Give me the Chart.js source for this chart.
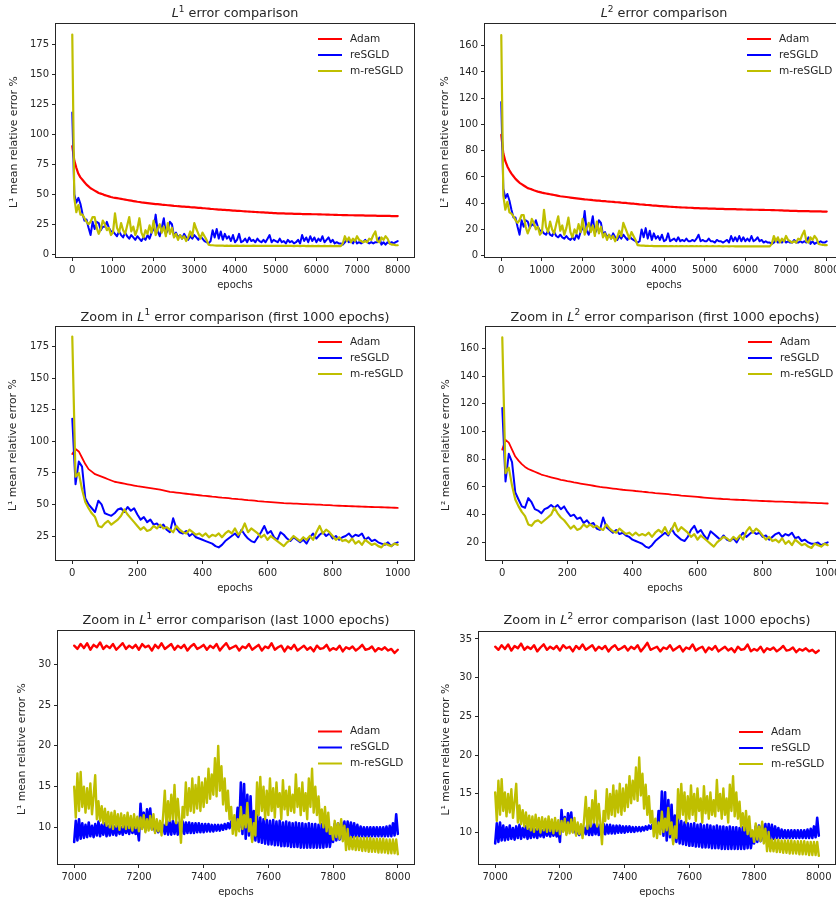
<!DOCTYPE html>
<html><head><meta charset="utf-8">
<script src="https://cdn.jsdelivr.net/npm/chart.js@4"></script>
<style>
html,body{margin:0;padding:0;background:#fff;}
body{width:836px;height:902px;overflow:hidden;position:relative;}
canvas{position:absolute;}
</style></head><body>
<canvas id="c1" width="418" height="300" style="left:0;top:0"></canvas>
<canvas id="c2" width="440" height="300" style="left:418px;top:0"></canvas>
<canvas id="c3" width="418" height="300" style="left:0;top:300px"></canvas>
<canvas id="c4" width="440" height="300" style="left:418px;top:300px"></canvas>
<canvas id="c5" width="418" height="302" style="left:0;top:600px"></canvas>
<canvas id="c6" width="440" height="302" style="left:418px;top:600px"></canvas>
<script>
// ---------- series names / colours ----------
const seriesNames = ['Adam', 'reSGLD', 'm-reSGLD'];
const seriesColors = ['#ff0000', '#0000ff', '#bfbf00'];

// ---------- tick labels ----------
const xTicksFull = [0,1000,2000,3000,4000,5000,6000,7000,8000];
const xTicksFirst = [0,200,400,600,800,1000];
const xTicksLast = [7000,7200,7400,7600,7800,8000];
const yTicksL1Full = [0,25,50,75,100,125,150,175];
const yTicksL2Full = [0,20,40,60,80,100,120,140,160];
const yTicksL1First = [25,50,75,100,125,150,175];
const yTicksL2First = [20,40,60,80,100,120,140,160];
const yTicksL1Last = [10,15,20,25,30];
const yTicksL2Last = [10,15,20,25,30,35];

// ---------- full run (epochs 0..8000, every 50 epochs) ----------
const adamL1Full = [
90,78,72,67,64,62,60,58,56.5,55,54,53,52,51,50.5,50,49.2,48.7,48.2,47.7,
47.3,47,46.7,46.4,46.1,45.8,45.5,45.2,44.9,44.6,44.3,44,43.7,43.5,43.2,43,42.8,42.6,42.4,42.2,
42,41.8,41.7,41.5,41.3,41.2,41,40.8,40.7,40.5,40.3,40.2,40,39.9,39.7,39.6,39.5,39.4,39.2,39.1,
39,38.9,38.7,38.6,38.4,38.3,38.1,38,37.8,37.7,37.5,37.4,37.2,37.1,37,36.9,36.8,36.7,36.6,36.4,
36.3,36.2,36.1,36,35.8,35.7,35.6,35.5,35.4,35.3,35.2,35.1,35,34.9,34.8,34.7,34.6,34.5,34.4,34.3,
34.2,34.1,34.1,34,34,33.9,33.9,33.8,33.8,33.7,33.7,33.6,33.6,33.5,33.5,33.4,33.4,33.4,33.3,33.3,
33.3,33.2,33.2,33.1,33.1,33,33,32.9,32.9,32.8,32.8,32.7,32.7,32.6,32.6,32.6,32.5,32.5,32.5,32.4,
32.4,32.3,32.3,32.3,32.2,32.2,32.2,32.1,32.1,32.1,32,32,32,31.9,31.9,31.9,31.9,31.8,31.8,31.8,
31.8];
const resgldL1Full = [
118,50,43,47,42,34,28,29,22,16,27,21,27,26,20,23,23,27,22,19,
19,17,15,19,16,14,18,15,13,16,14,12,15,13,11,14,12,16,13,18,
21,33,19,15,22,30,17,20,27,25,15,18,14,16,13,17,14,12,15,13,
16,14,12,15,13,11,10,9,11,20,14,21,13,19,12,17,13,15,11,16,
10,12,17,10,11,13,10,14,11,12,10,13,11,10,12,10,13,16,10,12,
11,10,13,10,11,9,12,10,11,9,10,12,9,16,11,14,10,15,11,14,
10,13,11,15,10,12,14,10,12,9,10,9,9,8,10,12,10,11,9,12,
9,10,9,10,12,10,9,10,9,10,10,14,8,10,8,10,9,10,9,10,
11];
const mresgldL1Full = [
183,47,35,41,33,33,30,27,25,27,31,31,22,17,21,28,25,20,22,16,
18,34,22,18,26,20,17,24,31,19,23,16,21,30,18,14,20,17,24,18,
28,16,21,25,18,23,15,26,17,22,14,17,12,16,13,15,11,14,19,15,
26,21,17,13,18,15,12,8,7.5,7.5,7.3,7.2,7.2,7.1,7.2,7.0,7.1,7.0,7.1,7.0,
7.0,7.1,6.9,7.0,7.1,6.9,7.0,6.9,7.0,7.1,6.9,7.0,6.9,7.0,7.0,6.9,7.0,6.9,7.0,6.9,
6.9,7.0,6.9,6.9,7.0,6.9,6.9,7.0,6.9,6.8,6.9,6.9,6.8,6.9,6.9,6.8,6.9,6.8,6.9,6.8,
6.8,6.9,6.8,6.8,6.9,6.8,6.8,6.9,6.8,6.8,6.9,6.8,6.8,9,15,11,14,10,13,11,
15,12,11,10,11,10,13,12,16,19,11,10,14,12,15,13,9,8,8,7.5,
7.5];
const adamL2Full = [
92,78,72,68,65,62.5,60.5,58.5,57,55.5,54.5,53.5,52.5,51.5,51,50.5,49.8,49.3,48.8,48.4,
48,47.7,47.4,47.1,46.8,46.5,46.2,45.9,45.6,45.3,45.1,44.9,44.7,44.5,44.3,44.1,43.9,43.7,43.5,43.3,
43.1,42.9,42.8,42.6,42.5,42.3,42.2,42,41.9,41.7,41.6,41.5,41.3,41.2,41.1,41,40.8,40.7,40.6,40.4,
40.3,40.2,40,39.9,39.7,39.6,39.4,39.3,39.1,39,38.9,38.7,38.6,38.5,38.3,38.2,38.1,38,37.8,37.7,
37.6,37.5,37.4,37.3,37.2,37.1,37,36.9,36.8,36.7,36.7,36.6,36.5,36.5,36.4,36.3,36.3,36.2,36.1,36.1,
36,36,35.9,35.9,35.8,35.8,35.7,35.7,35.6,35.6,35.5,35.5,35.5,35.4,35.4,35.4,35.3,35.3,35.3,35.2,
35.2,35.1,35.1,35.1,35,35,35,34.9,34.9,34.9,34.8,34.8,34.8,34.7,34.7,34.6,34.6,34.5,34.5,34.4,
34.3,34.3,34.2,34.2,34.1,34.1,34.0,34.0,34,33.9,33.9,33.9,33.8,33.8,33.8,33.7,33.7,33.7,33.6,33.6,
33.6];
const resgldL2Full = [
117,51,44,47,42,35,29,29,22,16,27,22,27,26,21,24,23,27,22,19,
19,17,16,19,16,15,18,15,14,16,14,13,15,13,12,14,12,16,13,18,
21,34,19,16,22,30,17,20,27,25,16,18,14,16,13,17,14,12,15,13,
16,14,12,15,13,12,11,10,11,20,14,21,13,19,12,17,13,15,12,16,
11,12,17,11,12,13,11,14,11,12,11,13,11,11,12,11,13,16,11,12,
11,11,13,11,11,10,12,11,11,10,11,12,10,15,11,14,11,15,11,14,
11,13,11,15,11,12,14,11,12,10,11,10,10,9,10,12,10,11,10,12,
10,11,10,10,12,10,10,11,10,11,10,14,9,11,9,10,10,11,10,10,
11];
const mresgldL2Full = [
168,46,35,41,33,32,30,27,25,27,31,31,22,17,21,28,25,20,22,16,
18,35,22,18,26,20,17,24,30,19,23,16,21,29,18,14,20,17,24,18,
28,16,21,25,18,23,15,26,17,22,14,17,12,16,13,15,11,14,19,15,
25,21,17,13,18,15,12,8,7.8,7.7,7.6,7.5,7.5,7.4,7.5,7.3,7.4,7.3,7.4,7.3,
7.3,7.4,7.2,7.3,7.4,7.2,7.3,7.2,7.3,7.4,7.2,7.3,7.2,7.3,7.3,7.2,7.3,7.2,7.3,7.2,
7.2,7.3,7.2,7.2,7.3,7.2,7.2,7.3,7.2,7.1,7.2,7.2,7.1,7.2,7.2,7.1,7.2,7.1,7.2,7.1,
7.1,7.2,7.1,7.1,7.2,7.1,7.1,7.2,7.1,7.1,7.2,7.1,7.1,9,15,11,14,10,13,11,
15,12,11,10,11,10,13,12,16,19,11,10,14,12,15,13,9,8.5,8.3,8,
8];

// ---------- first 1000 epochs (every 10 epochs) ----------
const adamL1First = [
90,94,92,87,82,78,76,74,73,72,
71,70,69,68,67.5,67,66.5,66,65.5,65,
64.5,64.1,63.7,63.3,62.9,62.5,62.1,61.7,61.2,60.6,
60,59.7,59.4,59.1,58.8,58.5,58.2,57.9,57.6,57.3,
57,56.8,56.5,56.2,56,55.7,55.4,55.2,55,54.7,
54.5,54.2,54,53.7,53.4,53.2,53,52.7,52.5,52.2,
52,51.8,51.6,51.4,51.2,51,50.9,50.8,50.7,50.6,
50.5,50.3,50.2,50.1,50,49.9,49.8,49.6,49.5,49.4,
49.2,49.1,49,48.9,48.8,48.7,48.6,48.5,48.4,48.3,
48.2,48.1,48,47.9,47.9,47.8,47.7,47.6,47.5,47.4,
47.3];
const resgldL1First = [
118,66,84,80,55,50,47,44,53,50,
43,42,41,43,46,47,44,48,45,47,
42,38,40,36,38,34,35,32,34,30,
28,39,31,28,27,29,25,27,24,23,
22,21,20,19,17,16,18,21,23,25,
27,24,30,26,23,21,20,24,28,33,
27,29,24,22,28,26,23,21,24,22,
20,22,19,24,27,23,26,28,25,27,
23,25,22,24,25,27,24,26,25,27,
22,24,21,22,20,19,18,20,17,19,
20];
const mresgldL1First = [
183,72,75,62,52,47,43,40,33,32,
35,37,34,36,38,41,46,42,39,36,
33,30,32,29,30,33,31,34,31,32,
30,28,33,30,28,27,30,28,26,27,
25,27,24,26,25,27,24,27,29,27,
31,26,29,35,28,31,29,27,24,26,
22,25,23,21,19,17,20,22,25,23,
21,24,22,25,22,28,33,27,30,28,
25,22,24,21,22,20,23,19,21,18,
22,20,18,19,17,16,19,18,17,19,
18];
const adamL2First = [
87,94,92,87,82,79,76.5,74.5,73,72,
71,70,69,68.3,67.6,67,66.4,65.8,65.2,64.7,
64.2,63.8,63.3,62.9,62.5,62.1,61.7,61.3,60.9,60.5,
60.1,59.8,59.5,59.2,58.9,58.6,58.3,58,57.8,57.6,
57.4,57.1,56.9,56.6,56.4,56.1,55.9,55.6,55.4,55.2,
55,54.8,54.5,54.3,54.1,53.8,53.6,53.4,53.2,53,
52.8,52.6,52.4,52.2,52,51.8,51.6,51.5,51.3,51.2,
51,50.9,50.8,50.7,50.6,50.5,50.4,50.2,50.1,50,
49.9,49.8,49.7,49.6,49.5,49.4,49.4,49.3,49.2,49.1,
49,48.9,48.8,48.8,48.7,48.6,48.5,48.4,48.3,48.2,
48.1];
const resgldL2First = [
117,64,84,78,56,51,46,45,52,49,
44,43,41,44,45,47,45,47,44,46,
42,39,40,37,38,34,36,33,34,30,
29,38,31,29,27,29,26,27,25,24,
22,21,20,19,17,16,18,21,23,25,
27,25,30,26,24,22,21,24,29,32,
27,29,25,22,28,26,24,22,25,22,
21,23,20,24,27,24,26,28,26,27,
24,25,22,24,26,27,24,26,25,27,
23,24,21,22,20,19,19,20,18,19,
20];
const mresgldL2First = [
168,70,74,61,51,46,42,39,33,32,
35,36,34,36,38,40,45,41,38,36,
33,30,32,29,30,33,31,33,31,32,
30,29,33,30,28,27,30,28,26,27,
25,27,25,26,25,27,24,27,29,27,
31,26,29,34,28,31,29,27,24,26,
22,25,23,21,19,17,20,22,24,23,
21,24,22,25,22,28,31,27,30,28,
25,22,24,21,22,20,23,19,21,18,
22,20,18,19,17,16,19,18,17,19,
18];

// ---------- last 1000 epochs ----------
// Adam: every 10 epochs from 7000; others: every 5 epochs from 7000
const adamL1Last = [
32.3,31.9,32.5,32.0,32.6,31.8,32.4,32.1,32.7,31.9,32.3,32.0,32.5,31.8,32.2,32.6,31.9,32.3,32.0,32.4,
31.8,32.5,32.1,32.3,31.7,32.4,32.0,32.6,31.9,32.2,32.5,31.8,32.3,32.0,32.4,31.7,32.2,32.5,31.9,32.1,
32.4,31.8,32.3,32.0,32.5,31.7,32.2,32.6,31.9,32.1,32.3,31.7,32.2,32.0,32.5,31.8,32.1,32.4,31.7,32.2,
32.0,32.6,31.8,32.1,32.3,31.6,32.2,31.9,32.4,31.7,32.0,32.3,31.8,32.1,31.6,32.3,31.9,32.0,32.4,31.7,
32.0,31.8,32.3,31.6,32.1,31.9,32.2,31.7,32.0,32.4,31.8,31.9,32.2,31.6,32.0,31.8,32.1,31.7,31.9,31.4,
31.8];
const resgldL1Last = [
8.2,10.8,8.4,11.0,8.6,10.5,8.7,10.3,8.8,10.6,8.9,10.2,8.8,10.4,9.0,10.7,8.9,10.3,9.1,10.5,
8.9,10.2,9.0,10.4,9.1,10.1,9.0,10.3,9.2,10.0,9.1,10.2,9.3,10.1,9.2,10.3,9.3,10.0,9.2,10.1,
8.4,12.9,10.0,11.8,9.6,12.2,10.5,12.3,9.8,10.2,9.5,10.0,9.4,10.1,9.5,10.3,9.2,10.8,9.1,10.7,
9.1,10.8,9.2,10.7,9.1,10.6,9.2,10.7,9.2,10.6,9.3,10.6,9.3,10.5,9.3,10.5,9.4,10.5,9.4,10.4,
9.4,10.4,9.5,10.4,9.5,10.3,9.5,10.3,9.6,10.3,9.6,10.3,9.7,10.4,9.8,10.5,9.9,10.7,10.2,10.8,
9.8,12.4,10.0,15.5,9.2,15.3,8.6,14.0,9.0,13.8,8.5,12.0,8.4,11.5,8.2,11.2,8.1,11.0,8.0,10.9,
7.9,10.8,7.9,10.9,7.8,10.7,7.8,10.8,7.7,10.6,7.7,10.7,7.7,10.6,7.6,10.5,7.6,10.6,7.6,10.5,
7.5,10.5,7.5,10.4,7.5,10.5,7.5,10.4,7.5,10.4,7.5,10.3,7.5,10.4,7.5,10.3,7.6,10.3,7.6,9.0,
8.2,10.4,8.4,10.5,8.5,10.6,8.6,10.7,8.7,10.7,8.8,10.6,8.8,10.5,8.9,10.3,8.9,10.1,8.9,10.0,
8.9,10.0,8.9,10.0,8.9,10.0,8.9,10.0,8.9,10.0,8.9,10.0,8.9,10.1,8.9,10.2,8.9,10.5,9.0,11.6,
9.2];
const mresgldL1Last = [
15.0,11.2,16.6,12.0,16.8,12.5,15.0,11.8,14.8,12.3,15.4,11.6,13.8,16.4,11.0,13.2,10.8,12.6,10.5,12.3,
10.2,11.9,10.0,11.8,9.8,12.0,10.1,11.6,9.7,11.7,10.0,11.5,9.8,11.8,9.9,11.4,9.6,11.6,9.9,11.3,
9.5,11.2,9.8,11.5,9.4,11.0,9.6,11.4,9.7,11.6,9.3,11.0,9.5,10.8,9.0,11.5,14.5,10.3,13.2,10.8,
14.0,11.0,15.2,10.5,13.5,11.0,8.1,12.5,11.2,15.5,11.5,14.8,12.0,16.0,11.8,15.2,12.3,16.2,12.0,15.5,
12.5,16.0,13.0,17.2,13.5,16.5,14.0,18.5,13.8,20.0,14.5,17.5,12.8,16.0,12.0,14.5,11.0,12.5,9.2,11.5,
9.0,11.0,9.5,12.5,9.8,11.5,10.0,13.0,9.5,11.0,8.2,10.5,9.0,15.5,11.5,16.2,12.0,15.0,11.0,14.5,
11.5,16.0,12.0,14.8,11.2,15.5,12.5,14.2,11.0,15.8,12.2,14.5,11.5,15.0,12.0,14.0,11.8,16.5,12.5,14.8,
11.5,15.5,12.0,14.2,11.0,16.0,12.5,17.2,11.8,15.0,11.5,13.8,10.5,12.2,10.0,12.5,9.5,11.8,9.2,10.0,
8.5,10.8,8.8,10.5,8.6,11.0,8.3,10.2,7.2,9.8,7.3,8.8,7.3,8.8,7.2,8.8,7.2,8.7,7.1,8.7,
7.1,8.7,7.0,8.7,7.0,8.6,7.0,8.6,6.9,8.6,6.9,8.6,6.9,8.5,6.8,8.5,6.8,8.5,6.8,8.5,
6.7];
const adamL2Last = [
34.0,33.6,34.2,33.7,34.3,33.5,34.1,33.8,34.4,33.6,34.0,33.7,34.2,33.4,33.9,34.3,33.6,34.0,33.7,34.1,
33.5,34.2,33.8,34.0,33.4,34.1,33.7,34.3,33.6,33.9,34.2,33.5,34.0,33.7,34.1,33.4,33.9,34.2,33.6,33.8,
34.1,33.5,34.0,33.7,34.2,33.4,33.9,34.5,33.6,33.8,34.0,33.4,33.9,33.7,34.2,33.5,33.8,34.1,33.4,33.9,
33.7,34.3,33.5,33.8,34.0,33.3,33.9,33.6,34.1,33.4,33.7,34.0,33.5,33.8,33.3,34.0,33.6,33.7,34.3,33.4,
33.7,33.5,34.0,33.3,33.8,33.6,33.9,33.4,33.7,34.1,33.5,33.6,33.9,33.3,33.7,33.5,33.8,33.4,33.6,33.2,
33.5];
const resgldL2Last = [
8.6,11.2,8.8,11.3,9.0,10.9,9.0,10.7,9.1,10.9,9.2,10.6,9.1,10.8,9.3,11.0,9.2,10.6,9.4,10.8,
9.2,10.5,9.3,10.7,9.4,10.4,9.3,10.6,9.5,10.3,9.4,10.5,9.6,10.4,9.5,10.6,9.6,10.3,9.5,10.4,
8.8,12.9,10.3,12.0,9.9,12.5,10.8,12.6,10.1,10.5,9.8,10.3,9.7,10.4,9.8,10.6,9.8,11.2,9.7,11.1,
9.7,11.2,9.8,11.1,9.7,11.0,9.8,11.1,9.8,11.0,9.9,11.0,9.9,10.9,9.9,10.9,10.0,10.9,10.0,10.8,
10.0,10.8,10.1,10.8,10.1,10.7,10.1,10.7,10.2,10.7,10.2,10.7,10.3,10.8,10.4,10.9,10.5,11.0,10.5,11.1,
10.2,12.8,10.4,15.3,9.6,15.2,9.0,14.2,9.4,13.6,8.9,12.2,8.8,11.8,8.6,11.5,8.5,11.3,8.4,11.2,
8.3,11.1,8.3,11.2,8.2,11.0,8.2,11.1,8.1,10.9,8.1,11.0,8.1,10.9,8.0,10.8,8.0,10.9,8.0,10.8,
7.9,10.8,7.9,10.7,7.9,10.8,7.9,10.7,7.9,10.7,7.9,10.6,7.9,10.7,7.9,10.6,8.0,10.6,8.0,9.4,
8.6,10.8,8.8,10.9,8.9,11.0,9.0,11.1,9.1,11.1,9.2,11.0,9.2,10.8,9.3,10.6,9.3,10.4,9.3,10.3,
9.3,10.3,9.3,10.3,9.3,10.3,9.3,10.3,9.3,10.3,9.3,10.3,9.3,10.4,9.3,10.5,9.3,10.8,9.4,11.9,
9.6];
const mresgldL2Last = [
15.2,11.5,16.7,12.3,16.9,12.8,15.2,12.1,15.0,12.6,15.6,11.9,14.0,16.3,11.3,13.5,11.1,12.9,10.8,12.6,
10.5,12.2,10.3,12.1,10.1,12.3,10.4,11.9,10.0,12.0,10.3,11.8,10.1,12.1,10.2,11.7,9.9,11.9,10.2,11.6,
9.8,11.5,10.1,11.8,9.7,11.3,9.9,11.7,10.0,11.9,9.6,11.3,9.8,11.1,9.3,11.8,14.6,10.5,13.2,10.8,
14.2,11.3,15.4,10.8,13.7,11.3,8.5,12.8,11.5,15.6,11.8,15.0,12.3,16.1,12.1,15.4,12.6,16.3,12.3,15.7,
12.8,16.2,13.3,17.3,13.8,16.7,14.3,18.4,14.1,19.7,14.8,17.6,13.1,16.2,12.3,14.7,11.3,12.8,9.5,11.8,
9.3,11.3,9.8,12.7,10.1,11.8,10.3,13.2,9.8,11.3,8.5,10.8,9.3,15.6,11.8,16.3,12.3,15.2,11.3,14.7,
11.8,16.1,12.3,15.0,11.5,15.7,12.8,14.4,11.3,16.0,12.5,14.7,11.8,15.2,12.3,14.2,12.1,16.8,12.8,15.0,
11.8,15.7,12.3,14.4,11.3,16.2,12.8,17.3,12.1,15.2,11.8,14.0,10.8,12.5,10.3,12.8,9.8,12.1,9.5,10.3,
8.8,11.2,9.1,10.8,8.9,11.4,8.6,10.5,7.6,10.1,7.6,9.1,7.6,9.1,7.5,9.1,7.5,9.0,7.4,9.0,
7.4,9.0,7.3,9.0,7.3,8.9,7.3,8.9,7.2,8.9,7.2,8.9,7.2,8.8,7.1,8.8,7.1,8.8,7.1,8.8,
7.0];

// ---------- rendering ----------
const TXT = '#262626';
const FONT = '"DejaVu Sans", sans-serif';
Chart.defaults.font.family = FONT;
Chart.defaults.font.size = 10;
Chart.defaults.color = TXT;

const framePlugin = {
  id: 'mplFrame',
  afterDatasetsDraw(chart) {
    const a = chart.chartArea, ctx = chart.ctx;
    ctx.save();
    ctx.strokeStyle = TXT; ctx.lineWidth = 1;
    ctx.strokeRect(Math.round(a.left) - 0.5, Math.round(a.top) - 0.5,
                   Math.round(a.right - a.left) + 1, Math.round(a.bottom - a.top) + 1);
    ctx.restore();
  }
};
const titlePlugin = {
  id: 'mplTitle',
  afterDraw(chart, args, o) {
    const a = chart.chartArea, ctx = chart.ctx;
    const parts = [
      {t: o.pre, f: '12.8px ' + FONT, dy: 0},
      {t: 'L', f: 'italic 12.8px ' + FONT, dy: 0},
      {t: o.sup, f: '9px ' + FONT, dy: -5.5},
      {t: o.post, f: '12.8px ' + FONT, dy: 0}
    ];
    ctx.save();
    let w = 0;
    parts.forEach(p => { ctx.font = p.f; p.w = ctx.measureText(p.t).width; w += p.w; });
    let x = (a.left + a.right) / 2 - w / 2;
    ctx.fillStyle = TXT; ctx.textAlign = 'left'; ctx.textBaseline = 'alphabetic';
    parts.forEach(p => { ctx.font = p.f; ctx.fillText(p.t, x, o.y + p.dy); x += p.w; });
    ctx.restore();
  }
};
const legendPlugin = {
  id: 'mplLegend',
  afterDraw(chart, args, o) {
    const a = chart.chartArea, ctx = chart.ctx;
    const y0 = o.mode === 'ur' ? a.top + 15 : (a.top + a.bottom) / 2 - 16;
    ctx.save();
    ctx.font = '10.5px ' + FONT; ctx.textAlign = 'left'; ctx.textBaseline = 'middle';
    chart.data.datasets.forEach((ds, i) => {
      const y = y0 + i * 16;
      ctx.strokeStyle = ds.borderColor; ctx.lineWidth = 2;
      ctx.beginPath(); ctx.moveTo(a.right - 96, y); ctx.lineTo(a.right - 72, y); ctx.stroke();
      ctx.fillStyle = TXT; ctx.fillText(ds.label, a.right - 64, y);
    });
    ctx.restore();
  }
};

const panels = [
  {id:'c1', w:418, h:300, area:{l:56,t:24,r:414,b:257}, x0:0, xmin:-400, xmax:8400, xticks:xTicksFull,
   ymin:-2.3, ymax:191.8, yticks:yTicksL1Full, title:{pre:'', sup:'1', post:' error comparison', y:17.3},
   ylab:'L¹ mean relative error % ', ylabPad:8, xlabPad:9, legend:'ur', lw:[2.2,2,2.2],
   values:[adamL1Full, resgldL1Full, mresgldL1Full], steps:[50,50,50]},
  {id:'c2', w:440, h:300, area:{l:67,t:24,r:425,b:257}, x0:0, xmin:-400, xmax:8400, xticks:xTicksFull,
   ymin:-1, ymax:176.5, yticks:yTicksL2Full, title:{pre:'', sup:'2', post:' error comparison', y:17.3},
   ylab:'L² mean relative error % ', ylabPad:20.7, xlabPad:9, legend:'ur', lw:[2.2,2,2.2],
   values:[adamL2Full, resgldL2Full, mresgldL2Full], steps:[50,50,50]},
  {id:'c3', w:418, h:300, area:{l:56,t:27,r:414,b:260}, x0:0, xmin:-50, xmax:1050, xticks:xTicksFirst,
   ymin:6, ymax:190.6, yticks:yTicksL1First, title:{pre:'Zoom in ', sup:'1', post:' error comparison (first 1000 epochs)', y:20.7},
   ylab:'L¹ mean relative error % ', ylabPad:7.3, xlabPad:5.3, legend:'ur', lw:[1.8,2,2.2],
   values:[adamL1First, resgldL1First, mresgldL1First], steps:[10,10,10]},
  {id:'c4', w:440, h:300, area:{l:68,t:27,r:426,b:260}, x0:0, xmin:-50, xmax:1050, xticks:xTicksFirst,
   ymin:7.3, ymax:175.5, yticks:yTicksL2First, title:{pre:'Zoom in ', sup:'2', post:' error comparison (first 1000 epochs)', y:20.7},
   ylab:'L² mean relative error % ', ylabPad:22.3, xlabPad:5.3, legend:'ur', lw:[1.8,2,2.2],
   values:[adamL2First, resgldL2First, mresgldL2First], steps:[10,10,10]},
  {id:'c5', w:418, h:302, area:{l:58,t:31,r:414,b:264}, x0:7000, xmin:6950, xmax:8050, xticks:xTicksLast,
   ymin:5.5, ymax:34.1, yticks:yTicksL1Last, title:{pre:'Zoom in ', sup:'1', post:' error comparison (last 1000 epochs)', y:24.3},
   ylab:'L¹ mean relative error % ', ylabPad:15.7, xlabPad:3.3, legend:'cr', lw:[2.4,2.6,2.4],
   values:[adamL1Last, resgldL1Last, mresgldL1Last], steps:[10,5,5]},
  {id:'c6', w:440, h:302, area:{l:61,t:32,r:417,b:264}, x0:7000, xmin:6950, xmax:8050, xticks:xTicksLast,
   ymin:5.95, ymax:35.9, yticks:yTicksL2Last, title:{pre:'Zoom in ', sup:'2', post:' error comparison (last 1000 epochs)', y:24.3},
   ylab:'L¹ mean relative error % ', ylabPad:22.3, xlabPad:3.3, legend:'cr', lw:[2.4,2.6,2.4],
   values:[adamL2Last, resgldL2Last, mresgldL2Last], steps:[10,5,5]}
];

panels.forEach(p => {
  const A = p.area;
  const datasets = p.values.map((vals, i) => ({
    label: seriesNames[i],
    data: vals.map((v, k) => ({x: p.x0 + k * p.steps[i], y: v})),
    borderColor: seriesColors[i],
    borderWidth: p.lw[i],
    borderJoinStyle: 'round',
    borderCapStyle: 'round',
    pointRadius: 0,
    tension: 0,
    fill: false,
    order: 2 - i
  }));
  const tickFont = {family: FONT, size: 10};
  new Chart(document.getElementById(p.id), {
    type: 'line',
    data: {datasets},
    options: {
      responsive: false, animation: false, events: [], devicePixelRatio: 1,
      layout: {padding: {left: 0, top: A.t, right: p.w - A.r, bottom: 0}, autoPadding: false},
      plugins: {
        legend: {display: false}, tooltip: {enabled: false}, title: {display: false},
        mplTitle: p.title, mplLegend: {mode: p.legend}
      },
      scales: {
        x: {
          type: 'linear', min: p.xmin, max: p.xmax,
          afterFit: s => { s.height = p.h - A.b; },
          afterBuildTicks: s => { s.ticks = p.xticks.map(v => ({value: v})); },
          ticks: {autoSkip: false, maxRotation: 0, minRotation: 0, padding: 3, color: TXT, font: tickFont, callback: v => String(v)},
          grid: {drawOnChartArea: false, drawTicks: true, tickLength: 4, color: TXT, lineWidth: 1},
          border: {display: false},
          title: {display: true, text: 'epochs', color: TXT, font: tickFont, padding: {top: 0, bottom: p.xlabPad}}
        },
        y: {
          type: 'linear', min: p.ymin, max: p.ymax,
          afterFit: s => { s.width = A.l; },
          afterBuildTicks: s => { s.ticks = p.yticks.map(v => ({value: v})); },
          ticks: {autoSkip: false, padding: 3, color: TXT, font: tickFont, callback: v => String(v)},
          grid: {drawOnChartArea: false, drawTicks: true, tickLength: 4, color: TXT, lineWidth: 1},
          border: {display: false},
          title: {display: true, text: p.ylab, color: TXT, font: {family: FONT, size: 10.8}, padding: {top: p.ylabPad - 0.4, bottom: 0}}
        }
      }
    },
    plugins: [framePlugin, titlePlugin, legendPlugin]
  });
});
</script>
</body></html>
